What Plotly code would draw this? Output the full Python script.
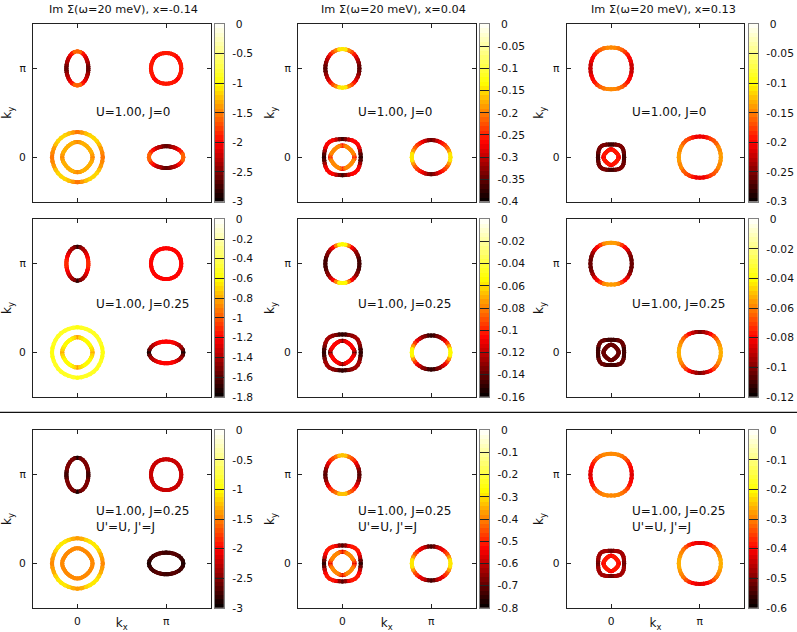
import math
import plotly.graph_objects as go

W, H = 797, 632

# ---- Fermi pocket radii (units of pi), read at 0,10,...,90 degrees; mirrored into the other quadrants
x1_A = [.124, .125, .1285, .134, .142, .153, .165, .178, .188, .192]
x1_B = [.171, .171, .172, .174, .176, .177, .176, .175, .174, .173]
x1_C = [.286, .285, .283, .283, .284, .284, .283, .282, .283, .284]
x1_D = [.171, .170, .166, .163, .162, .162, .163, .166, .170, .171]
x1_E = [.194, .190, .179, .165, .152, .141, .132, .127, .123, .122]

x2_A = [.192, .193, .195, .198, .203, .208, .212, .215, .217, .218]
x2_C = [.207, .208, .212, .219, .225, .225, .218, .210, .205, .203]
x2_D = [.137, .135, .129, .125, .124, .124, .125, .128, .131, .132]
x2_E = [.218, .217, .214, .210, .206, .201, .198, .195, .193, .192]

x3_A = [.233, .234, .236, .239, .242, .243, .242, .240, .237, .235]
x3_C = [.147, .148, .153, .160, .165, .165, .158, .150, .145, .143]
x3_D = [.086, .085, .082, .079, .078, .078, .079, .082, .086, .088]
x3_E = [.237, .237, .238, .240, .242, .243, .240, .236, .233, .231]

# ---- Im Sigma along each pocket, read at 5,15,...,85 degrees
r1c1_A = [-2.6, -2.6, -2.5, -2.4, -2.3, -2.2, -2.1, -1.9, -1.6]
r1c1_B = [-1.95, -1.95, -1.95, -2.0, -2.0, -2.0, -1.95, -1.95, -1.95]
r1c1_C = [-1.55, -1.5, -1.4, -1.25, -1.15, -1.15, -1.25, -1.4, -1.55]
r1c1_D = [-1.45, -1.4, -1.3, -1.3, -1.3, -1.3, -1.3, -1.4, -1.5]
r1c1_E = [-1.6, -1.8, -2.0, -2.2, -2.3, -2.4, -2.5, -2.6, -2.65]

r1c2_A = [-.36, -.35, -.33, -.31, -.29, -.26, -.23, -.2, -.15]
r1c2_C = [-.38, -.36, -.32, -.28, -.27, -.27, -.3, -.34, -.37]
r1c2_D = [-.26, -.22, -.2, -.2, -.2, -.2, -.2, -.22, -.27]
r1c2_E = [-.15, -.19, -.22, -.24, -.26, -.28, -.3, -.33, -.35]

r1c3_A = [-.22, -.22, -.21, -.2, -.19, -.175, -.16, -.155, -.15]
r1c3_C = [-.27, -.27, -.26, -.26, -.25, -.25, -.26, -.27, -.27]
r1c3_D = [-.21, -.2, -.19, -.19, -.19, -.19, -.19, -.2, -.21]
r1c3_E = [-.14, -.145, -.15, -.16, -.17, -.18, -.19, -.205, -.21]

r2c1_A = [-1.1, -1.15, -1.2, -1.25, -1.3, -1.35, -1.4, -1.5, -1.7]
r2c1_B = [-1.2, -1.2, -1.2, -1.2, -1.2, -1.2, -1.2, -1.2, -1.2]
r2c1_C = [-.55, -.55, -.54, -.54, -.53, -.53, -.54, -.54, -.55]
r2c1_D = [-.8, -.7, -.65, -.62, -.62, -.62, -.65, -.7, -.85]
r2c1_E = [-1.75, -1.55, -1.4, -1.35, -1.3, -1.25, -1.2, -1.2, -1.2]

r2c2_A = [-.145, -.145, -.14, -.135, -.13, -.12, -.105, -.08, -.055]
r2c2_C = [-.15, -.145, -.135, -.125, -.125, -.13, -.135, -.145, -.15]
r2c2_D = [-.14, -.12, -.11, -.105, -.105, -.105, -.11, -.12, -.14]
r2c2_E = [-.055, -.075, -.095, -.11, -.12, -.13, -.135, -.145, -.15]

r2c3_A = [-.105, -.105, -.1, -.095, -.085, -.08, -.07, -.06, -.055]
r2c3_C = [-.11, -.11, -.11, -.105, -.105, -.105, -.11, -.11, -.11]
r2c3_D = [-.105, -.105, -.105, -.105, -.105, -.105, -.105, -.105, -.105]
r2c3_E = [-.052, -.055, -.06, -.065, -.072, -.08, -.09, -.095, -.1]

r3c1_A = [-2.75, -2.7, -2.65, -2.55, -2.5, -2.5, -2.5, -2.6, -2.85]
r3c1_B = [-2.25, -2.25, -2.25, -2.25, -2.25, -2.25, -2.25, -2.25, -2.25]
r3c1_C = [-1.45, -1.4, -1.3, -1.2, -1.1, -1.1, -1.2, -1.3, -1.4]
r3c1_D = [-1.45, -1.45, -1.45, -1.45, -1.45, -1.45, -1.45, -1.45, -1.45]
r3c1_E = [-2.9, -2.8, -2.7, -2.7, -2.65, -2.65, -2.7, -2.75, -2.8]

r3c2_A = [-.72, -.7, -.65, -.6, -.55, -.5, -.45, -.42, -.33]
r3c2_C = [-.75, -.7, -.6, -.53, -.52, -.52, -.55, -.65, -.72]
r3c2_D = [-.58, -.48, -.42, -.4, -.4, -.4, -.42, -.48, -.6]
r3c2_E = [-.3, -.38, -.45, -.5, -.55, -.58, -.62, -.7, -.73]

r3c3_A = [-.43, -.42, -.4, -.38, -.35, -.33, -.31, -.3, -.29]
r3c3_C = [-.52, -.5, -.48, -.47, -.47, -.47, -.48, -.5, -.52]
r3c3_D = [-.42, -.4, -.38, -.38, -.38, -.38, -.38, -.4, -.42]
r3c3_E = [-.26, -.27, -.29, -.31, -.34, -.37, -.4, -.42, -.43]

# ---- Pocket centres in units of pi
CENTRE_A = (0, 1)
CENTRE_B = (1, 1)
CENTRE_CD = (0, 0)
CENTRE_E = (1, 0)

# ---- Colour-bar ticks per panel
ticks_r1c1 = [0, -0.5, -1, -1.5, -2, -2.5, -3]
ticks_r1c2 = [0, -0.05, -0.1, -0.15, -0.2, -0.25, -0.3, -0.35, -0.4]
ticks_r1c3 = [0, -0.05, -0.1, -0.15, -0.2, -0.25, -0.3]
ticks_r2c1 = [0, -0.2, -0.4, -0.6, -0.8, -1, -1.2, -1.4, -1.6, -1.8]
ticks_r2c2 = [0, -0.02, -0.04, -0.06, -0.08, -0.1, -0.12, -0.14, -0.16]
ticks_r2c3 = [0, -0.02, -0.04, -0.06, -0.08, -0.1, -0.12]
ticks_r3c1 = [0, -0.5, -1, -1.5, -2, -2.5, -3]
ticks_r3c2 = [0, -0.1, -0.2, -0.3, -0.4, -0.5, -0.6, -0.7, -0.8]
ticks_r3c3 = [0, -0.1, -0.2, -0.3, -0.4, -0.5, -0.6]

TITLES = ["Im Σ(ω=20 meV), x=-0.14", "Im Σ(ω=20 meV), x=0.04", "Im Σ(ω=20 meV), x=0.13"]
NOTE_R1 = "U=1.00, J=0"
NOTE_R2 = "U=1.00, J=0.25"
NOTE_R3 = "U=1.00, J=0.25<br>U'=U, J'=J"

PANELS = [
    [(x1_A, r1c1_A, CENTRE_A), (x1_B, r1c1_B, CENTRE_B), (x1_C, r1c1_C, CENTRE_CD), (x1_D, r1c1_D, CENTRE_CD), (x1_E, r1c1_E, CENTRE_E)],
    [(x2_A, r1c2_A, CENTRE_A), (x2_C, r1c2_C, CENTRE_CD), (x2_D, r1c2_D, CENTRE_CD), (x2_E, r1c2_E, CENTRE_E)],
    [(x3_A, r1c3_A, CENTRE_A), (x3_C, r1c3_C, CENTRE_CD), (x3_D, r1c3_D, CENTRE_CD), (x3_E, r1c3_E, CENTRE_E)],
    [(x1_A, r2c1_A, CENTRE_A), (x1_B, r2c1_B, CENTRE_B), (x1_C, r2c1_C, CENTRE_CD), (x1_D, r2c1_D, CENTRE_CD), (x1_E, r2c1_E, CENTRE_E)],
    [(x2_A, r2c2_A, CENTRE_A), (x2_C, r2c2_C, CENTRE_CD), (x2_D, r2c2_D, CENTRE_CD), (x2_E, r2c2_E, CENTRE_E)],
    [(x3_A, r2c3_A, CENTRE_A), (x3_C, r2c3_C, CENTRE_CD), (x3_D, r2c3_D, CENTRE_CD), (x3_E, r2c3_E, CENTRE_E)],
    [(x1_A, r3c1_A, CENTRE_A), (x1_B, r3c1_B, CENTRE_B), (x1_C, r3c1_C, CENTRE_CD), (x1_D, r3c1_D, CENTRE_CD), (x1_E, r3c1_E, CENTRE_E)],
    [(x2_A, r3c2_A, CENTRE_A), (x2_C, r3c2_C, CENTRE_CD), (x2_D, r3c2_D, CENTRE_CD), (x2_E, r3c2_E, CENTRE_E)],
    [(x3_A, r3c3_A, CENTRE_A), (x3_C, r3c3_C, CENTRE_CD), (x3_D, r3c3_D, CENTRE_CD), (x3_E, r3c3_E, CENTRE_E)],
]
PANEL_TICKS = [ticks_r1c1, ticks_r1c2, ticks_r1c3, ticks_r2c1, ticks_r2c2, ticks_r2c3, ticks_r3c1, ticks_r3c2, ticks_r3c3]

# ---- Layout in pixels
COL_L = [33.0, 298.0, 566.7]
ROW_T = [24.0, 219.3, 430.3]
SIZE = 177.5
CB_L = [214.8, 480.0, 748.8]
CB_W = 9.2
NOTE_X = [94.2, 356.2, 629.8]
NOTE_Y = [111.7, 303.7, 519.3]
NOTE_TXT = [NOTE_R1, NOTE_R2, NOTE_R3]
TITLE_X = [123.0, 393.0, 663.0]
FONT = "DejaVu Sans"
INK = "#222222"
TXT = "#111111"

# ---- Discretised "hot" palette
N = 40


def hot(t):
    c = lambda v: int(round(255 * max(0.0, min(1.0, v))))
    return f"rgb({c(3*t)},{c(3*t-1)},{c(3*t-2)})"


LEVELS = [hot((i + .5) / N) for i in range(N)]
SCALE = []
for i, col in enumerate(LEVELS):
    SCALE += [[i / N, col], [(i + 1) / N, col]]


def full_radii(r):
    return r + r[-2::-1] + r[1:] + r[-2:0:-1]


def full_vals(v):
    return v + v[::-1] + v + v[::-1]


fig = go.Figure()
ann = []

for p, (loops, tv) in enumerate(zip(PANELS, PANEL_TICKS)):
    row, col = divmod(p, 3)
    ax = p + 1
    suffix = "" if ax == 1 else str(ax)
    cb = str(ax + 9)
    vmin = min(tv)
    buckets = {}
    for radii, vals, (cx, cy) in loops:
        R = full_radii(radii)
        V = full_vals(vals)
        n = len(R)
        for i in range(n):
            a0, a1 = math.radians(10 * i), math.radians(10 * (i + 1))
            r0, r1 = R[i], R[(i + 1) % n]
            lvl = min(N - 1, max(0, int((V[i] - vmin) / (0 - vmin) * N)))
            b = buckets.setdefault(lvl, ([], []))
            b[0].extend([cx + r0 * math.cos(a0), cx + r1 * math.cos(a1), None])
            b[1].extend([cy + r0 * math.sin(a0), cy + r1 * math.sin(a1), None])
    for lvl, (xs, ys) in sorted(buckets.items()):
        fig.add_trace(go.Scatter(
            x=xs, y=ys, mode="lines+markers", xaxis=f"x{suffix}", yaxis=f"y{suffix}",
            line=dict(color=LEVELS[lvl], width=4), marker=dict(color=LEVELS[lvl], size=4, line=dict(width=0)),
            showlegend=False, hoverinfo="skip"))

    L, T = COL_L[col], ROW_T[row]
    bottom = row == 2
    ydom = [1 - (T + SIZE) / H, 1 - T / H]
    common = dict(showline=True, mirror="ticks", linecolor=INK, linewidth=1, ticks="inside", ticklen=4,
                  tickcolor=INK, tickwidth=1, showgrid=False, zeroline=False, tickmode="array",
                  tickvals=[0, 1], ticktext=["0", "π"], range=[-.5, 1.5], automargin=False,
                  tickfont=dict(family=FONT, size=10.7, color=TXT))
    fig.layout[f"xaxis{suffix}"] = dict(
        common, domain=[L / W, (L + SIZE) / W], anchor=f"y{suffix}", showticklabels=bottom,
        ticklabelstandoff=3,
        title=dict(text="k<sub>x</sub>" if bottom else "", standoff=2, font=dict(family=FONT, size=12, color=TXT)))
    fig.layout[f"yaxis{suffix}"] = dict(
        common, domain=ydom, anchor=f"x{suffix}", ticklabelstandoff=4,
        title=dict(text="k<sub>y</sub>", standoff=6, font=dict(family=FONT, size=12, color=TXT)))

    # colour bar: a one-column heatmap on its own axes, ticks on the right-hand value axis
    step = -vmin / N
    fig.add_trace(go.Heatmap(
        z=[[vmin + (i + .5) * step] for i in range(N)], x=[0], y0=vmin + step / 2, dy=step,
        xaxis=f"x{cb}", yaxis=f"y{cb}", zmin=vmin, zmax=0, colorscale=SCALE, showscale=False, hoverinfo="skip"))
    fig.layout[f"xaxis{cb}"] = dict(
        domain=[CB_L[col] / W, (CB_L[col] + CB_W) / W], anchor=f"y{cb}", range=[-.5, .5], showgrid=False,
        zeroline=False, showticklabels=False, ticks="", showline=True, mirror=True, linecolor="#808080",
        linewidth=1.3, automargin=False)
    fig.layout[f"yaxis{cb}"] = dict(
        domain=ydom, anchor=f"x{cb}", side="right", range=[vmin, 0], showgrid=False, zeroline=False,
        showline=True, mirror="ticks", linecolor="#808080", linewidth=1.3, automargin=False,
        ticks="inside", ticklen=5, tickcolor=INK, tickwidth=1, tickmode="array", tickvals=tv,
        ticktext=[("\u00a00" if v == 0 else f"{v:g}") for v in tv], ticklabelstandoff=5,
        tickfont=dict(family=FONT, size=10.7, color=TXT))
    ann.append(dict(text=NOTE_TXT[row], xref="paper", yref="paper", x=NOTE_X[col] / W, y=1 - NOTE_Y[row] / H,
                    xanchor="left", yanchor="middle", align="left", showarrow=False,
                    font=dict(family=FONT, size=12, color=TXT)))

for c in range(3):
    ann.append(dict(text=TITLES[c], xref="paper", yref="paper", x=TITLE_X[c] / W, y=1 - 10 / H,
                    xanchor="center", yanchor="middle", showarrow=False,
                    font=dict(family=FONT, size=11.3, color=TXT)))

fig.update_layout(
    width=W, height=H, margin=dict(l=0, r=0, t=0, b=0), paper_bgcolor="white", plot_bgcolor="white",
    showlegend=False, annotations=ann,
    shapes=[dict(type="line", xref="paper", yref="paper", x0=0, x1=1, y0=1 - 412.3 / H, y1=1 - 412.3 / H,
                 line=dict(color=TXT, width=1.3))])
fig.write_html("out.html", config={"displayModeBar": False},
               post_script="document.body.style.margin='0';document.documentElement.style.overflow='hidden';")
